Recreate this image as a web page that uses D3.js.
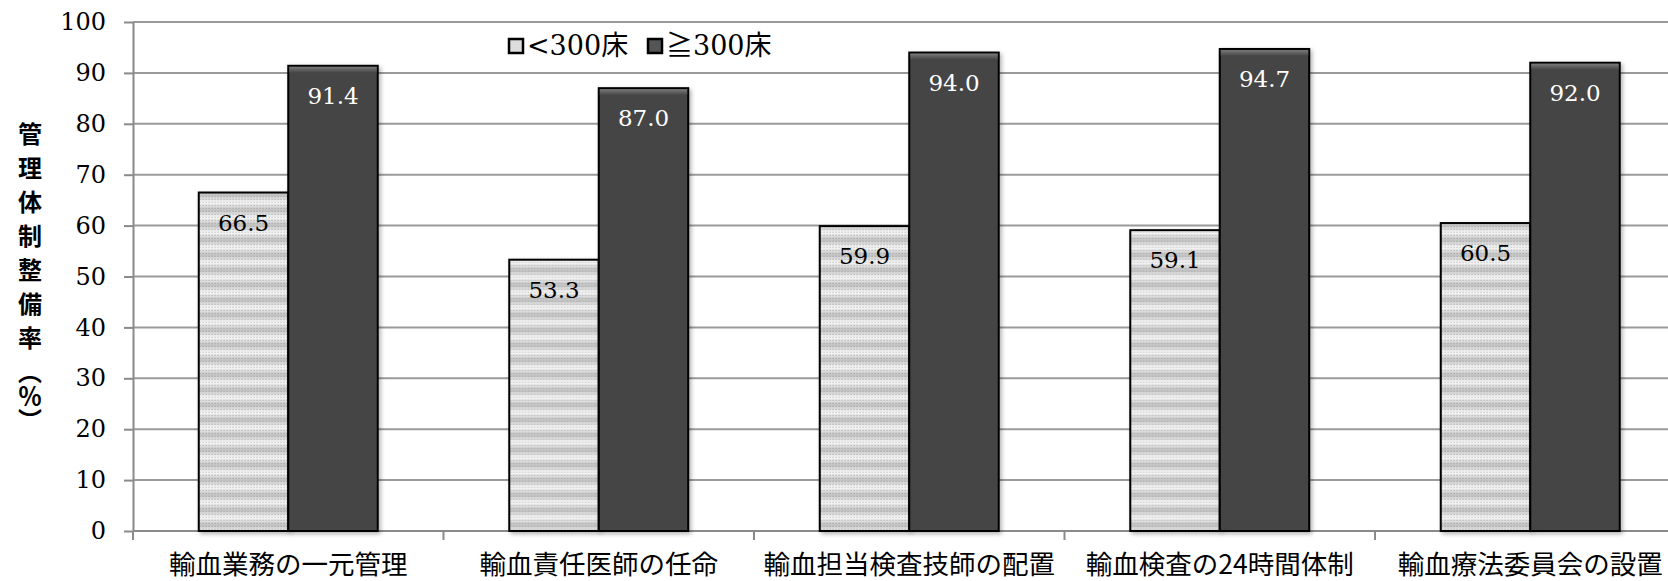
<!DOCTYPE html>
<html>
<head>
<meta charset="utf-8">
<script src="https://cdn.jsdelivr.net/npm/d3@7"></script>
<style>
  html, body { margin: 0; padding: 0; background: #fff; overflow: hidden; }
  svg { display: block; }
</style>
</head>
<body>
<div id="chart"></div>
<script>
// categories and series
const categories = ['輸血業務の一元管理', '輸血責任医師の任命', '輸血担当検査技師の配置', '輸血検査の24時間体制', '輸血療法委員会の設置'];
const seriesNames = ['<300床', '≧300床'];
const small = [66.5, 53.3, 59.9, 59.1, 60.5];
const large = [91.4, 87.0, 94.0, 94.7, 92.0];
const yTicks = [0, 10, 20, 30, 40, 50, 60, 70, 80, 90, 100];

const width = 1668, height = 581;
const margin = { left: 133, top: 22, bottom: 50 };
const step = 310.5;
const serif = '"DejaVu Serif", "Liberation Serif", serif';
const cjk = '"Noto Sans CJK JP", sans-serif';

const svg = d3.select('#chart').append('svg')
    .attr('width', width)
    .attr('height', height);

const defs = svg.append('defs');

// banded gradient + dots for the light bars
const grad = defs.append('linearGradient')
    .attr('id', 'band')
    .attr('x1', 0).attr('y1', 0).attr('x2', 0).attr('y2', 1);
grad.append('stop').attr('offset', '0%').attr('stop-color', '#c2c2c2');
grad.append('stop').attr('offset', '50%').attr('stop-color', '#f8f8f8');
grad.append('stop').attr('offset', '100%').attr('stop-color', '#c2c2c2');

const pat = defs.append('pattern')
    .attr('id', 'lightFill')
    .attr('patternUnits', 'userSpaceOnUse')
    .attr('width', 3).attr('height', 15);
pat.append('rect').attr('width', 3).attr('height', 15).attr('fill', 'url(#band)');
[0.75, 3.75, 6.75, 9.75, 12.75].forEach(y => {
    pat.append('rect').attr('x', 0.5).attr('y', y).attr('width', 1.2).attr('height', 1.2)
        .attr('fill', 'rgba(90,90,90,0.35)');
});

const darkGrad = defs.append('linearGradient')
    .attr('id', 'darkTop')
    .attr('x1', 0).attr('y1', 0).attr('x2', 0).attr('y2', 1);
darkGrad.append('stop').attr('offset', '0%').attr('stop-color', '#7a7a7a');
darkGrad.append('stop').attr('offset', '100%').attr('stop-color', '#454545');

const shadow = defs.append('filter').attr('id', 'shadow')
    .attr('x', '-10%').attr('y', '-10%').attr('width', '130%').attr('height', '130%');
shadow.append('feDropShadow')
    .attr('dx', 2).attr('dy', 2).attr('stdDeviation', 2)
    .attr('flood-color', '#000').attr('flood-opacity', 0.3);

// scales
const x0 = d3.scaleBand()
    .domain(categories)
    .range([margin.left, margin.left + step * categories.length])
    .paddingInner(0).paddingOuter(0);

const x1 = d3.scaleBand()
    .domain(seriesNames)
    .range([0, x0.bandwidth()])
    .paddingInner(0).paddingOuter(0.735);

const y = d3.scaleLinear()
    .domain([0, 100])
    .range([height - margin.bottom, margin.top]);

// gridlines
svg.append('g')
    .selectAll('line')
    .data(yTicks.filter(d => d > 0))
    .join('line')
    .attr('x1', margin.left).attr('x2', width)
    .attr('y1', d => y(d)).attr('y2', d => y(d))
    .attr('stroke', '#9a9a9a')
    .attr('stroke-width', 2);

// y axis
const yAxis = svg.append('g')
    .attr('transform', `translate(${margin.left},0)`)
    .call(d3.axisLeft(y).tickValues(yTicks).tickSize(9).tickPadding(18).tickSizeOuter(0));
yAxis.attr('font-family', null);
yAxis.select('.domain').attr('stroke', '#8a8a8a').attr('stroke-width', 2);
yAxis.selectAll('.tick line').attr('stroke', '#8a8a8a').attr('stroke-width', 2);
yAxis.selectAll('.tick text')
    .attr('fill', '#000')
    .attr('font-family', serif)
    .style('font-family', serif)
    .style('font-size', '24px');

// x axis
const xAxisY = y(0);
const xAxis = svg.append('g');
xAxis.append('line')
    .attr('x1', margin.left).attr('x2', width)
    .attr('y1', xAxisY).attr('y2', xAxisY)
    .attr('stroke', '#8a8a8a').attr('stroke-width', 2);
xAxis.selectAll('line.tick')
    .data(categories)
    .join('line')
    .attr('class', 'tick')
    .attr('x1', d => x0(d)).attr('x2', d => x0(d))
    .attr('y1', xAxisY).attr('y2', xAxisY + 9)
    .attr('stroke', '#8a8a8a').attr('stroke-width', 2);
xAxis.selectAll('text')
    .data(categories)
    .join('text')
    .attr('x', d => x0(d) + x0.bandwidth() / 2)
    .attr('y', 574)
    .attr('text-anchor', 'middle')
    .style('font-family', cjk)
    .style('font-size', '26.5px')
    .attr('fill', '#000')
    .text(d => d);

// bars
const rows = categories.map((c, i) => ({ cat: c, values: [
    { key: seriesNames[0], value: small[i] },
    { key: seriesNames[1], value: large[i] }
] }));

const groups = svg.append('g')
    .selectAll('g')
    .data(rows)
    .join('g')
    .attr('transform', d => `translate(${x0(d.cat)},0)`);

groups.selectAll('rect.bar')
    .data(d => d.values)
    .join('rect')
    .attr('class', 'bar')
    .attr('x', d => x1(d.key))
    .attr('y', d => y(d.value))
    .attr('width', x1.bandwidth())
    .attr('height', d => y(0) - y(d.value))
    .attr('fill', d => d.key === seriesNames[0] ? 'url(#lightFill)' : '#454545')
    .attr('stroke', '#000')
    .attr('stroke-width', 2)
    .attr('filter', 'url(#shadow)');

// bevel on dark bars
groups.selectAll('rect.bevel')
    .data(d => d.values.filter(v => v.key === seriesNames[1]))
    .join('rect')
    .attr('class', 'bevel')
    .attr('x', d => x1(d.key) + 1)
    .attr('y', d => y(d.value) + 1)
    .attr('width', x1.bandwidth() - 2)
    .attr('height', 6)
    .attr('fill', 'url(#darkTop)');

// value labels
groups.selectAll('text.val')
    .data(d => d.values)
    .join('text')
    .attr('class', 'val')
    .attr('x', d => x1(d.key) + x1.bandwidth() / 2)
    .attr('y', d => y(d.value) + 38)
    .attr('text-anchor', 'middle')
    .attr('fill', d => d.key === seriesNames[0] ? '#000' : '#fff')
    .attr('font-family', serif)
    .style('font-family', serif)
    .style('font-size', '23px')
    .text(d => d.value.toFixed(1));

// y axis title (vertical)
const title = svg.append('text')
    .attr('x', 30)
    .attr('y', 122)
    .style('writing-mode', 'vertical-rl')
    .style('font-family', cjk)
    .style('font-weight', 'bold')
    .style('font-size', '24px')
    .attr('fill', '#000');
title.append('tspan').style('letter-spacing', '10px').text('管理体制整備率');
title.append('tspan').style('letter-spacing', '0px').text('（％）');

// legend
const legend = svg.append('g').attr('transform', 'translate(509,46)');
const legendItems = legend.selectAll('g')
    .data(seriesNames)
    .join('g')
    .attr('transform', (d, i) => `translate(${i * 139},0)`);
legendItems.append('rect')
    .attr('x', 0).attr('y', -7)
    .attr('width', 14).attr('height', 14)
    .attr('fill', (d, i) => i === 0 ? '#ddd' : '#555')
    .attr('stroke', '#000')
    .attr('stroke-width', 2.5);
legendItems.append('text')
    .attr('x', 18)
    .attr('y', 9)
    .attr('font-family', serif)
    .style('font-family', '"DejaVu Serif", "Noto Sans CJK JP", serif')
    .style('font-size', '27px')
    .attr('fill', '#000')
    .text(d => d);
</script>
</body>
</html>
